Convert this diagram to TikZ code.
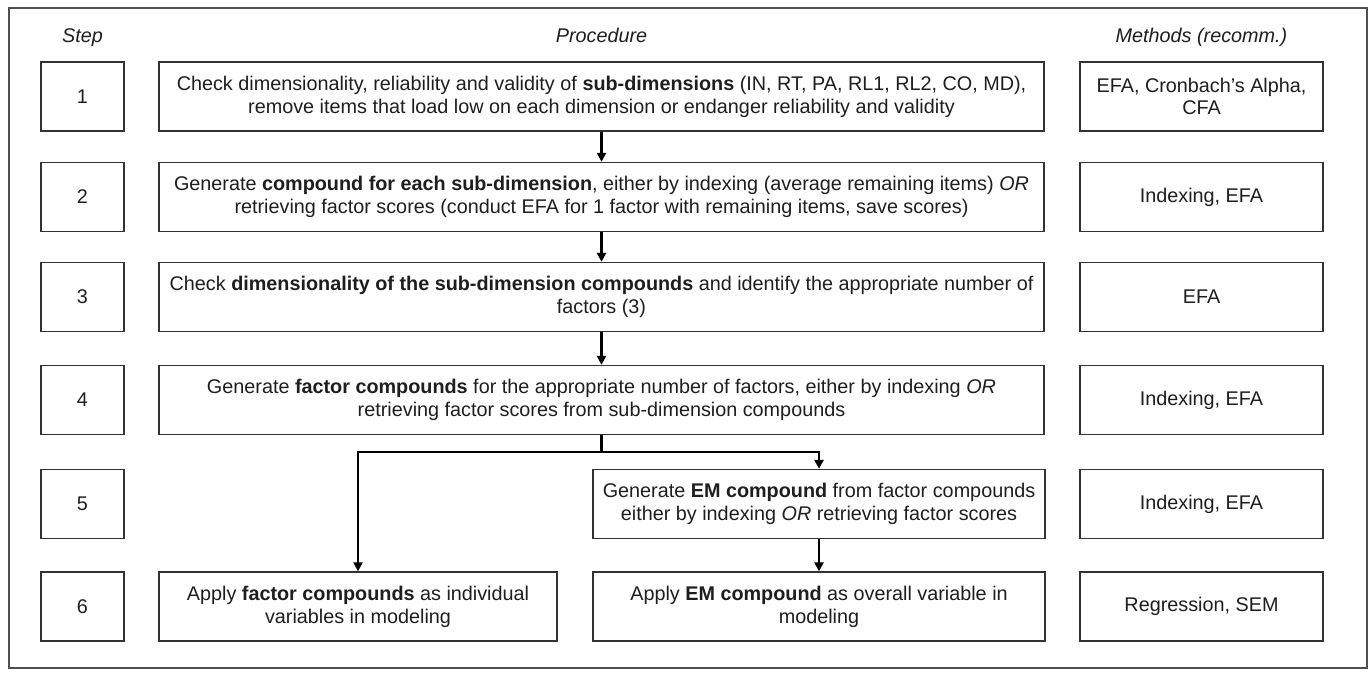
\documentclass[tikz,border=0pt]{standalone}
\usepackage{fontspec}
\setmainfont{Liberation Sans}
\usetikzlibrary{arrows.meta}
\definecolor{ink}{HTML}{1E1E1E}
\definecolor{edge}{HTML}{333333}
\definecolor{frame}{HTML}{505050}
\begin{document}
\begin{tikzpicture}[x=1pt,y=-1pt,
  font=\fontsize{19.8}{22.8}\selectfont, text=ink,
  cell/.style={draw=edge, line width=1.3pt, inner sep=0pt, align=center, minimum height=69pt},
  stepbox/.style={cell, minimum width=83pt},
  procbox/.style={cell, minimum width=885pt},
  halfbox/.style={cell, minimum width=#1},
  methbox/.style={cell, minimum width=243pt},
  head/.style={font=\fontsize{19.8}{22.8}\selectfont\itshape, inner sep=0pt, anchor=base},
  flow/.style={line width=2.6pt, draw=black, -{Triangle[length=9pt,width=9pt]}},
  link/.style={line width=2.6pt, draw=black}]
\useasboundingbox (0,0) rectangle (1370,672);
\draw[frame, line width=1.3pt] (9,8) rectangle (1367,668);

% headers
\node[head] (hs) at (82.5,42) {Step};
\node[head] (hp) at (601.5,42) {Procedure};
\node[head] (hm) at (1201.5,42) {Methods (recomm.)};

% step boxes
\node[stepbox] (s1) at (82.5,96.5) {1};
\node[stepbox] (s2) at (82.5,197) {2};
\node[stepbox] (s3) at (82.5,297) {3};
\node[stepbox] (s4) at (82.5,400) {4};
\node[stepbox] (s5) at (82.5,504) {5};
\node[stepbox] (s6) at (82.5,606.5) {6};

% procedure boxes
\node[procbox] (p1) at (601.5,96.5) {Check dimensionality, reliability and validity of \textbf{sub-dimensions} (IN, RT, PA, RL1, RL2, CO, MD),\\ remove items that load low on each dimension or endanger reliability and validity};
\node[procbox] (p2) at (601.5,197) {Generate \textbf{compound for each sub-dimension}, either by indexing (average remaining items) \textit{OR}\\ retrieving factor scores (conduct EFA for 1 factor with remaining items, save scores)};
\node[procbox] (p3) at (601.5,297) {Check \textbf{dimensionality of the sub-dimension compounds} and identify the appropriate number of\\ factors (3)};
\node[procbox] (p4) at (601.5,400) {Generate \textbf{factor compounds} for the appropriate number of factors, either by indexing \textit{OR}\\ retrieving factor scores from sub-dimension compounds};
\node[halfbox=452pt] (p5) at (819,504) {Generate \textbf{EM compound} from factor compounds\\ either by indexing \textit{OR} retrieving factor scores};
\node[halfbox=398pt] (p6a) at (358,606.5) {Apply \textbf{factor compounds} as individual\\ variables in modeling};
\node[halfbox=452pt] (p6b) at (819,606.5) {Apply \textbf{EM compound} as overall variable in\\ modeling};

% method boxes
\node[methbox] (m1) at (1201.5,96.5) {EFA, Cronbach’s Alpha,\\ CFA};
\node[methbox] (m2) at (1201.5,197) {Indexing, EFA};
\node[methbox] (m3) at (1201.5,297) {EFA};
\node[methbox] (m4) at (1201.5,400) {Indexing, EFA};
\node[methbox] (m5) at (1201.5,504) {Indexing, EFA};
\node[methbox] (m6) at (1201.5,606.5) {Regression, SEM};

% connectors
\draw[flow] (p1) -- (p2);
\draw[flow] (p2) -- (p3);
\draw[flow] (p3) -- (p4);
\coordinate (split) at (601.5,452);
\draw[link] (p4.south) -- (split);
\draw[flow] (split) -| (p6a.north);
\draw[flow] (split) -| (p5.north);
\draw[flow] (p5) -- (p6b);
\end{tikzpicture}
\end{document}
